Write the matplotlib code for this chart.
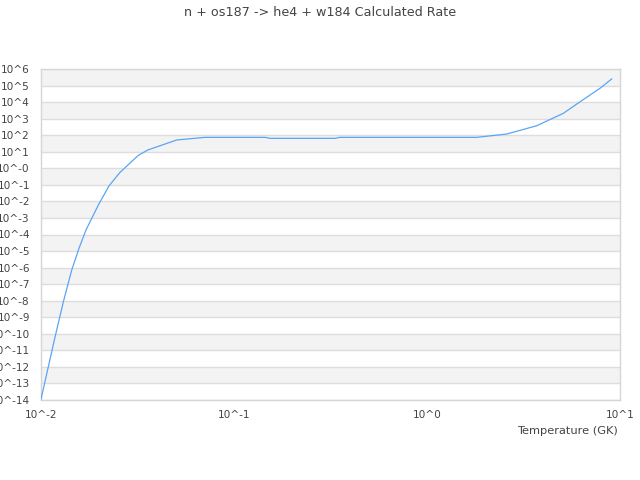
import matplotlib
matplotlib.use("Agg")
import matplotlib.pyplot as plt
import numpy as np

# Data (log10 values)
log_temp = [-2.0, -1.962, -1.927, -1.884, -1.841, -1.803, -1.767, -1.703, -1.648,
            -1.591, -1.496, -1.446, -1.297, -1.150, -0.839, -0.813, -0.477, -0.451,
            0.257, 0.413, 0.568, 0.706, 0.793, 0.896, 0.957]
log_rate = [-13.95, -11.99, -10.18, -8.06, -6.15, -4.83, -3.73, -2.22, -1.07,
            -0.25, 0.78, 1.11, 1.71, 1.87, 1.87, 1.81, 1.81, 1.87,
            1.87, 2.07, 2.57, 3.32, 4.02, 4.83, 5.40]

y_exponents = list(range(-14, 7))
y_tick_labels = ["10^-14", "10^-13", "10^-12", "10^-11", "10^-10", "10^-9", "10^-8",
                 "10^-7", "10^-6", "10^-5", "10^-4", "10^-3", "10^-2", "10^-1",
                 "10^-0", "10^1", "10^2", "10^3", "10^4", "10^5", "10^6"]
x_exponents = [-2, -1, 0, 1]
x_tick_labels = ["10^-2", "10^-1", "10^0", "10^1"]

title = "n + os187 -> he4 + w184 Calculated Rate"
xlabel = "Temperature (GK)"

temp = [10.0 ** v for v in log_temp]
rate = [10.0 ** v for v in log_rate]

fig = plt.figure(figsize=(6.4, 4.8), dpi=100)
ax = fig.add_axes([41 / 640, 1 - 400 / 480, (620 - 41) / 640, (400 - 69) / 480])
ax.set_xscale("log")
ax.set_yscale("log")
ax.set_xlim(1e-2, 1e1)
ax.set_ylim(1e-14, 1e6)

# alternating bands
for e in y_exponents[:-1]:
    if (6 - (e + 1)) % 2 == 0:
        ax.axhspan(10.0 ** e, 10.0 ** (e + 1), color="#f3f3f3", zorder=0, lw=0)
for e in y_exponents:
    ax.axhline(10.0 ** e, color="#dddddd", lw=1.0, zorder=1)

ax.plot(temp, rate, color="#5aa5f5", lw=0.9, zorder=3)

ax.set_yticks([10.0 ** e for e in y_exponents])
ax.set_yticklabels(y_tick_labels)
ax.set_xticks([10.0 ** e for e in x_exponents])
ax.set_xticklabels(x_tick_labels)
ax.minorticks_off()
ax.tick_params(axis="both", length=0, labelsize=7.6, labelcolor="#444444")
ax.tick_params(axis="y", pad=8)
ax.tick_params(axis="x", pad=7)

for s in ax.spines.values():
    s.set_color("#d6d6d6")
    s.set_linewidth(1.0)

fig.text(0.5, 1 - 12 / 480, title, ha="center", va="center", fontsize=9.2, color="#444444")
fig.text(618 / 640, 1 - 431 / 480, xlabel, ha="right", va="center", fontsize=8.2, color="#444444")

fig.savefig("out.png", dpi=100)
